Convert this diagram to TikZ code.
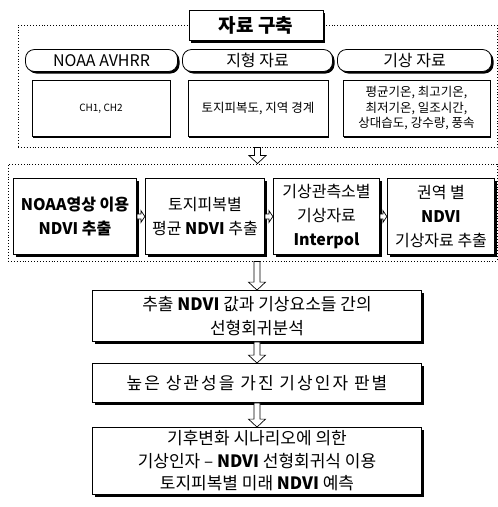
\documentclass[tikz,border=0pt]{standalone}
\usepackage{fontspec}
\setmainfont{Noto Sans CJK KR}
\usetikzlibrary{shadows,calc}
\tikzset{
  x=1pt, y=-1pt,
  grp/.style={draw, dotted, line width=0.9pt, inner sep=0pt},
  sh/.style={drop shadow={shadow xshift=2pt, shadow yshift=-2pt, fill=black, opacity=1}},
  titlebox/.style={draw, line width=0.8pt, fill=white, sh, minimum width=134pt, minimum height=30pt, inner sep=0pt, font=\fontsize{19}{21}\selectfont\bfseries},
  head/.style={draw, line width=0.8pt, fill=white, rounded corners=9pt, sh, minimum height=22pt, inner sep=0pt, font=\fontsize{16}{18}\selectfont},
  content/.style={draw, line width=0.7pt, fill=white, drop shadow={shadow xshift=1.2pt, shadow yshift=-1.2pt, fill=black, opacity=1}, minimum height=56pt, inner sep=0pt, align=center, font=\fontsize{12.5}{15.5}\selectfont},
  stepbox/.style={draw, line width=1.2pt, fill=white, sh, minimum height=76pt, inner sep=0pt, align=center, font=\fontsize{16}{24}\selectfont},
  flowbox/.style={draw, line width=0.8pt, fill=white, sh, minimum width=329pt, inner sep=0pt, align=center, font=\fontsize{17}{24}\selectfont},
  hollow/.style={draw, line width=0.7pt, fill=white},
}
\newcommand\vhollow[2]{\path[hollow] let \p1=(#1), \p2=(#2) in
  (\x1-3pt,\y1) -- (\x1-3pt,\y2+8pt) -- (\x1-8.5pt,\y2+8pt) -- (\x1,\y2) -- (\x1+8.5pt,\y2+8pt) -- (\x1+3pt,\y2+8pt) -- (\x1+3pt,\y1) -- cycle;}
\newcommand\hhollow[2]{\path[hollow] let \p1=(#1), \p2=(#2) in
  (\x1,\y1+2.5pt) -- (\x2-4pt,\y1+2.5pt) -- (\x2-4pt,\y1+6pt) -- (\x2,\y1) -- (\x2-4pt,\y1-6pt) -- (\x2-4pt,\y1-2.5pt) -- (\x1,\y1-2.5pt) -- cycle;}
\begin{document}
\begin{tikzpicture}
\useasboundingbox (0,0) rectangle (498,507);
% group 1
\node[grp, minimum width=479pt, minimum height=122pt] (g1) at (257.5,86) {};
\node[titlebox] (title) at (256,25.5) {자료 구축};
\node[head, minimum width=152pt] (h1) at (101.5,60.5) {NOAA AVHRR};
\node[head, minimum width=150pt] (h2) at (257.5,60.5) {지형 자료};
\node[head, minimum width=154pt] (h3) at (414.5,60.5) {기상 자료};
\node[content, minimum width=138pt] (c1) at (101,108.5) {\fontsize{10}{12}\selectfont CH1, CH2};
\node[content, minimum width=140pt] (c2) at (258,108.5) {토지피복도, 지역 경계};
\node[content, minimum width=147pt] (c3) at (416.5,108.5) {평균기온, 최고기온,\\최저기온, 일조시간,\\상대습도, 강수량, 풍속};
% group 2
\node[grp, minimum width=489pt, minimum height=97pt] (g2) at (252.5,212.5) {};
\node[stepbox, minimum width=123pt] (s1) at (75,216.5) {\bfseries NOAA영상 이용\\\bfseries NDVI 추출};
\node[stepbox, minimum width=119pt] (s2) at (205,216.5) {토지피복별\\평균 \textbf{NDVI} 추출};
\node[stepbox, minimum width=106pt] (s3) at (326.5,216.5) {기상관측소별\\기상자료\\\textbf{Interpol}};
\node[stepbox, minimum width=107pt] (s4) at (441,216.5) {권역 별\\\textbf{NDVI}\\기상자료 추출};
% flow
\node[flowbox, minimum height=51pt] (a) at (257,316) {추출 \textbf{NDVI} 값과 기상요소들 간의\\선형회귀분석};
\node[flowbox, minimum height=39pt] (b) at (257,383) {\addfontfeatures{LetterSpace=12}높은 상관성을 가진 기상인자 판별};
\node[flowbox, minimum height=67pt, font=\fontsize{17}{22.5}\selectfont] (c) at (257,461) {기후변화 시나리오에 의한\\기상인자 -- \textbf{NDVI} 선형회귀식 이용\\토지피복별 미래 \textbf{NDVI} 예측};
% connectors
\vhollow{g1.south}{g2.north}
\vhollow{g2.south -| a.north}{a.north}
\vhollow{a.south}{b.north}
\vhollow{b.south}{c.north}
\hhollow{s1.east}{s2.west}
\hhollow{s2.east}{s3.west}
\hhollow{s3.east}{s4.west}
\end{tikzpicture}
\end{document}
